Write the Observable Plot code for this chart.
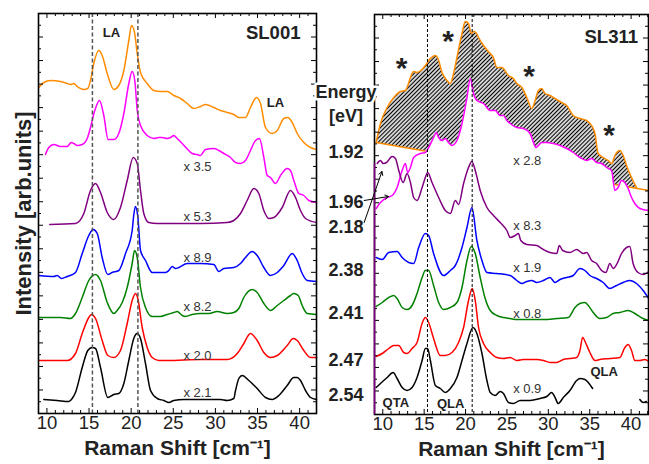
<!DOCTYPE html>
<html><head><meta charset="utf-8">
<script src="https://cdn.jsdelivr.net/npm/d3@7"></script>
<script src="https://cdn.jsdelivr.net/npm/@observablehq/plot@0.6"></script>
<style>
body{margin:0;background:#fff;}
#chart{position:relative;width:649px;height:464px;overflow:hidden;background:#fff;}
</style></head><body><div id="chart"></div>
<script>
// ---------------- DATA ----------------
// Raman shift (cm^-1), intensity (arb. units, offset spectra)
const leftOrange = [[9.04,326],[9.63,331],[10.42,333],[11.61,332],[12.41,330],[12.8,329],[13.19,330],[13.59,327],[14.38,324],[14.85,325],[15.17,333],[15.56,350],[16.16,363],[16.56,358],[17.16,340],[17.94,324],[18.53,328],[19.13,343],[19.72,373],[20.04,388],[20.4,381],[20.72,360],[21.11,341],[21.9,330],[22.69,323],[23.48,322],[24.28,322],[25.06,318],[25.86,315],[26.65,310],[27.44,305],[28.23,307],[28.82,309],[29.81,306],[30.6,303],[31.4,301],[32.18,299],[32.78,296],[33.57,296],[34.16,306],[34.88,316],[35.35,310],[35.95,286],[36.74,280],[37.34,283],[38.12,295],[38.59,296],[39.12,291],[39.71,280],[40.49,271],[41.29,266],[42,264]];
const leftMagenta = [[9.83,259],[10.22,266],[10.82,269],[11.61,267],[12.41,267],[12.88,271],[13.19,270],[13.59,268],[14.19,269],[14.78,275],[15.17,286],[15.68,303],[16.24,313],[16.75,298],[17.27,274],[17.94,274],[18.53,280],[19.13,300],[19.72,330],[20.12,342],[20.43,333],[20.72,303],[21.11,288],[21.9,278],[22.69,275],[23.28,276],[23.68,276],[24.28,275],[24.67,276],[25.06,278],[25.46,275],[26.06,270],[26.84,263],[27.25,260],[27.84,259],[28.23,258],[28.82,264],[29.81,265],[30.4,263],[31.0,260],[31.79,256],[32.39,251],[32.98,250],[33.57,253],[34.16,263],[34.76,273],[35.23,275],[35.75,256],[36.15,238],[36.54,236],[37.13,230],[37.73,238],[38.52,245],[38.91,243],[39.31,233],[39.9,220],[40.49,218],[41.09,213],[42,211]];
const leftPurple = [[10.34,189],[13.39,190],[14.38,200],[15.17,223],[15.77,230],[16.36,221],[17.16,201],[17.94,194],[18.73,206],[19.53,233],[20.24,256],[20.72,250],[21.11,223],[21.5,200],[22.09,191],[23.09,190],[25.06,190],[28.23,190],[31.4,191],[32.18,193],[32.98,200],[33.77,213],[34.56,225],[35.15,220],[35.75,203],[36.34,195],[36.93,196],[37.93,206],[38.91,223],[39.51,216],[40.1,203],[40.7,195],[42,191]];
const leftBlue = [[9.04,138],[10.82,137],[11.22,138],[11.73,135],[12.41,137],[13.39,141],[14.19,160],[14.97,178],[15.49,184],[15.97,180],[16.56,156],[17.23,139],[17.75,141],[18.53,143],[19.33,160],[20.12,183],[20.3,198],[20.51,207],[20.8,196],[21.11,163],[21.7,153],[22.5,141],[23.28,141],[24.08,141],[24.47,143],[24.87,147],[25.26,145],[25.65,146],[26.65,150],[28.23,150],[29.81,149],[30.4,142],[31.0,145],[32.18,146],[32.98,150],[33.57,156],[34.37,162],[34.96,158],[35.75,146],[36.54,138],[37.34,141],[38.12,148],[39.12,160],[39.71,153],[40.3,140],[40.9,133],[42,132]];
const leftGreen = [[9.04,96],[10.42,96],[11.61,96],[12.8,95],[13.39,100],[14.19,116],[14.97,133],[15.77,139],[16.36,133],[17.16,111],[17.94,100],[18.34,103],[18.94,111],[19.53,126],[20.12,150],[20.4,163],[20.72,156],[21.11,126],[21.7,106],[22.5,97],[23.48,97],[24.28,99],[25.06,101],[25.46,102],[26.06,98],[26.45,97],[27.25,99],[28.23,100],[29.22,100],[30.21,102],[31.4,100],[32.18,101],[32.78,105],[33.37,116],[34.37,124],[34.96,121],[35.75,110],[36.54,103],[37.34,108],[38.12,113],[38.91,118],[39.31,120],[39.83,118],[40.3,108],[40.9,100],[42,99]];
const leftRed = [[9.04,53],[12.41,53],[13.39,60],[14.19,80],[14.97,96],[15.26,99],[15.77,95],[16.56,73],[17.23,58],[17.94,56],[18.73,63],[19.53,90],[20.12,113],[20.51,120],[20.79,115],[21.31,86],[21.9,66],[22.5,56],[23.28,53],[24.28,53],[28.23,54],[31.4,54],[32.59,60],[33.37,70],[34.16,80],[34.96,73],[35.75,61],[36.54,56],[37.34,58],[38.52,68],[39.24,75],[39.71,73],[40.49,63],[41.29,56],[42,56]];
const leftBlack = [[9.63,14],[11.22,13],[12.6,12],[13.0,15],[13.39,21],[14.19,46],[14.85,63],[15.37,66],[15.77,65],[16.36,46],[17.23,16],[17.94,19],[18.53,20],[19.13,30],[19.72,53],[20.31,75],[20.72,80],[21.11,75],[21.7,50],[22.3,23],[23.09,15],[23.87,13],[24.47,11],[25.06,13],[26.25,14],[27.44,14],[29.03,14],[30.6,14],[31.4,13],[32.18,15],[32.39,23],[32.78,35],[33.18,38],[33.97,33],[34.96,25],[35.95,16],[36.74,14],[37.53,18],[38.52,28],[39.31,36],[39.71,36],[40.1,33],[40.7,23],[41.29,16],[42,14]];

const rightOrange = [[9.2,272],[9.72,291],[10.53,307],[11.33,317],[12.13,323],[12.73,324],[12.94,327],[13.34,337],[13.73,343],[14.14,342],[14.75,345],[15.14,349],[15.75,356],[16.35,359],[16.67,356],[17.16,342],[17.76,334],[18.16,331],[18.55,341],[18.96,357],[19.57,381],[19.96,393],[20.36,391],[20.69,381],[20.96,383],[21.25,382],[21.57,377],[22.17,369],[22.98,361],[23.37,357],[23.78,347],[24.39,347],[25.18,339],[25.78,336],[26.19,331],[26.8,327],[27.4,317],[28.0,306],[28.4,314],[28.8,324],[29.2,326],[29.6,321],[30.2,319],[30.81,316],[31.2,314],[31.81,311],[32.22,309],[32.61,304],[33.01,299],[33.82,296],[34.63,294],[35.23,289],[35.63,281],[36.02,261],[36.63,257],[37.23,254],[37.64,251],[38.04,259],[38.64,264],[39.04,259],[39.45,249],[40.05,237],[40.65,227]];
const rightOrangeBase = [[9.2,272],[42.13,224]];
const rightMagenta = [[9.2,206],[9.72,212],[10.53,217],[11.13,219],[11.73,227],[12.34,244],[12.73,251],[13.01,242],[13.34,247],[13.73,257],[14.54,261],[15.14,262],[15.54,267],[16.14,277],[16.47,282],[16.75,277],[17.16,274],[17.55,276],[17.95,272],[18.36,269],[18.96,274],[19.57,291],[20.17,317],[20.57,336],[20.96,321],[21.37,314],[22.17,311],[22.98,304],[23.58,304],[24.18,299],[24.58,299],[24.99,294],[25.39,291],[26.19,287],[26.99,286],[27.8,281],[28.2,272],[28.52,267],[28.8,269],[29.2,272],[29.81,272],[30.6,271],[31.41,269],[32.22,266],[33.01,262],[33.82,257],[34.63,254],[35.23,256],[35.83,252],[36.43,251],[37.04,247],[37.64,244],[38.04,224],[38.43,227],[38.84,234],[39.24,232],[39.64,226],[40.05,217],[40.45,211],[41.05,206],[42.13,204]];
const rightPurple = [[9.33,251],[9.72,254],[10.05,251],[10.45,252],[11.13,258],[11.53,256],[11.93,244],[12.46,232],[12.94,241],[13.34,232],[13.73,217],[14.14,214],[14.75,227],[15.14,237],[15.42,242],[15.95,232],[16.75,217],[17.55,204],[18.16,201],[18.76,214],[19.16,210],[19.76,231],[20.36,247],[20.77,253],[21.17,244],[21.77,224],[22.58,207],[23.37,199],[24.18,192],[24.99,184],[25.39,177],[25.99,179],[26.39,181],[26.67,174],[27.4,170],[28.6,169],[29.4,165],[30.2,162],[31.01,161],[31.33,169],[31.73,164],[32.61,162],[33.42,165],[34.22,161],[34.63,162],[35.23,154],[35.83,151],[36.43,144],[36.95,142],[37.43,151],[37.83,146],[38.31,151],[38.84,161],[39.45,167],[39.84,168],[40.24,151],[40.84,142],[41.45,140],[42.13,143]];
const rightBlue = [[9.2,157],[9.93,155],[10.72,162],[11.73,163],[12.34,157],[13.13,152],[13.73,151],[14.34,167],[15.14,181],[15.54,179],[16.14,161],[17.35,139],[18.16,144],[18.76,149],[19.57,167],[20.17,187],[20.77,207],[21.37,174],[21.98,154],[22.58,142],[23.78,141],[25.39,139],[26.19,134],[26.8,131],[27.4,133],[28.0,134],[28.6,132],[29.4,134],[30.2,137],[30.81,132],[31.41,135],[32.22,137],[33.01,139],[33.82,146],[34.42,144],[35.02,139],[35.83,136],[36.63,132],[37.43,126],[38.24,129],[39.04,132],[39.84,134],[40.65,131],[41.45,124],[42.13,116]];
const rightGreen = [[9.2,108],[9.93,112],[10.72,117],[11.33,119],[11.73,116],[12.34,107],[12.94,105],[13.54,109],[14.14,121],[14.75,137],[15.14,144],[15.54,144],[16.14,129],[16.75,112],[17.35,105],[18.16,107],[18.96,112],[19.57,127],[20.17,154],[20.69,168],[21.17,161],[21.77,137],[22.37,116],[22.98,104],[23.78,99],[24.58,97],[25.39,96],[26.19,95],[27.8,95],[29.4,95],[31.01,96],[32.41,97],[33.22,107],[33.82,111],[34.42,112],[34.82,109],[35.42,102],[36.22,96],[37.04,97],[37.83,101],[38.64,102],[39.64,104],[40.45,101],[41.45,96],[42.13,94]];
const rightRed = [[9.2,58],[9.93,61],[10.72,66],[11.33,69],[11.93,69],[12.53,62],[12.94,61],[13.54,66],[14.14,72],[14.75,91],[15.14,97],[15.54,92],[16.14,76],[16.95,59],[17.55,59],[18.36,62],[19.16,72],[19.76,87],[20.36,114],[20.81,126],[21.17,114],[21.57,87],[22.17,71],[22.98,62],[23.78,57],[24.58,56],[25.39,57],[26.19,54],[26.99,55],[28.6,55],[29.4,54],[30.2,52],[31.01,52],[31.81,55],[32.61,56],[33.42,57],[33.82,64],[34.14,77],[34.54,71],[35.02,62],[35.63,54],[36.22,55],[37.43,56],[38.64,57],[39.24,67],[39.64,70],[40.05,64],[40.45,54],[41.05,54],[41.65,55],[42.13,53]];
const rightBlack = [[9.2,27],[9.72,31],[10.53,37],[11.25,42],[11.73,36],[12.34,27],[12.94,24],[13.54,27],[14.14,37],[14.75,54],[15.14,66],[15.42,66],[15.75,54],[16.35,29],[16.95,26],[17.55,22],[18.16,26],[18.96,37],[19.57,54],[20.17,71],[20.89,87],[21.37,81],[21.98,61],[22.58,34],[22.98,22],[23.58,19],[24.18,23],[24.58,21],[25.18,12],[25.78,11],[26.59,14],[27.8,14],[29.0,16],[29.81,18],[30.4,22],[30.81,17],[31.2,11],[31.81,17],[32.61,24],[33.42,34],[33.82,36],[34.42,35],[34.82,32],[35.35,26]];
const rightBlackTail = [[41.05,15],[41.45,12],[41.85,13]];

const dashX = [15.4, 20.8];
const xLabelTicks = [10, 15, 20, 25, 30, 35, 40];

const leftMultipliers = ["x 3.5", "x 5.3", "x 8.9", "x 8.2", "x 2.0", "x 2.1"];
const leftMultY = [247, 197, 156, 107, 58, 21];
const rightMultipliers = ["x 2.8", "x 8.3", "x 1.9", "x 0.8", "x 0.9"];
const rightMultY = [254, 189, 147, 101, 26];

const energies = ["1.92", "1.96", "2.18", "2.38", "2.41", "2.47", "2.54"];
const energyY = [262, 212, 187, 144, 101, 54, 19];
const energyHeader = ["Energy", "[eV]"];
const energyHeaderY = [322, 298];

const leftNotes = [{t: "LA", x: 17.67, y: 381}, {t: "LA", x: 37.13, y: 311}];
const rightNotes = [{t: "QTA", x: 11.57, y: 12}, {t: "QLA", x: 18.2, y: 11}, {t: "QLA", x: 36.74, y: 43}];
const stars = [{x: 12.28, y: 354}, {x: 17.9, y: 381}, {x: 27.68, y: 346}, {x: 37.33, y: 287}];
const arrows = [{x1: 7.75, y1: 214, x2: 10.7, y2: 218}, {x1: 7.75, y1: 192, x2: 9.9, y2: 243}];

// ---------------- STYLE ----------------
const F = "'Liberation Sans', Arial, Helvetica, sans-serif";
const C = {orange: "#ff8c00", magenta: "#ff00ff", purple: "#800080", blue: "#0000ff", green: "#008000", red: "#ff0000", black: "#000"};
const txt = "#222";
const X = d => d[0], Y = d => d[1];
const yTicks = d3.range(35).map(k => k * 400 / 34);
const yMaj = yTicks.filter((d, i) => i % 2 === 0), yMin = yTicks.filter((d, i) => i % 2 === 1);
const xMin = d3.range(9, 43).filter(d => d % 5 !== 0);

function frameMarks(innerW) {
  return [
    Plot.tickX(xMin, {x: d => d, insetTop: 400 - 3, strokeWidth: 1}),
    Plot.tickX(xLabelTicks, {x: d => d, insetTop: 400 - 5, strokeWidth: 1}),
    Plot.tickX(xMin, {x: d => d, insetBottom: 400 - 3, strokeWidth: 1}),
    Plot.tickX(xLabelTicks, {x: d => d, insetBottom: 400 - 5, strokeWidth: 1}),
    Plot.tickY(yMin, {y: d => d, insetRight: innerW - 3, strokeWidth: 1}),
    Plot.tickY(yMaj, {y: d => d, insetRight: innerW - 5, strokeWidth: 1}),
    Plot.tickY(yMin, {y: d => d, insetLeft: innerW - 3, strokeWidth: 1}),
    Plot.tickY(yMaj, {y: d => d, insetLeft: innerW - 5, strokeWidth: 1}),
    Plot.frame({stroke: "#000", strokeWidth: 1.6}),
    Plot.text(xLabelTicks, {x: d => d, frameAnchor: "bottom", dy: 15, text: d => String(d), fontSize: 18.5, fill: txt}),
    Plot.text(["Raman Shift [cm\u207B\u00B9]"], {frameAnchor: "bottom", dy: 41, fontSize: 21, fontWeight: "bold", fill: txt})
  ];
}
const curve = "monotone-x";
const line = (data, color) => Plot.line(data, {x: X, y: Y, stroke: color, strokeWidth: 1.5, curve});

// ---------------- LEFT PANEL ----------------
const leftW = 330;
const leftSvg = Plot.plot({
  width: leftW, height: 464,
  marginLeft: 38, marginRight: 14, marginTop: 13, marginBottom: 51,
  x: {domain: [9, 42], axis: null},
  y: {domain: [0, 400], axis: null},
  style: {position: "absolute", left: "0px", top: "0px", background: "transparent", fontFamily: F, overflow: "visible"},
  marks: [
    line(leftOrange, C.orange), line(leftMagenta, C.magenta), line(leftPurple, C.purple),
    line(leftBlue, C.blue), line(leftGreen, C.green), line(leftRed, C.red), line(leftBlack, C.black),
    Plot.ruleX(dashX, {stroke: "#555", strokeWidth: 1.5, strokeDasharray: "4,2.5"}),
    ...frameMarks(278),
    Plot.text(["Intensity [arb.units]"], {frameAnchor: "left", textAnchor: "middle", dx: -15, rotate: -90, fontSize: 22, fontWeight: "bold", fill: txt}),
    Plot.text(leftMultipliers, {x: 26.2, y: (d, i) => leftMultY[i], text: d => d, textAnchor: "start", fontSize: 13, fill: "#333"}),
    Plot.text(leftNotes, {x: "x", y: "y", text: "t", fontSize: 13, fontWeight: "bold", fill: txt}),
    Plot.text(["SL001"], {x: 40.1, y: 380, textAnchor: "end", fontSize: 18.5, fontWeight: "bold", fill: txt})
  ]
});

// ---------------- RIGHT PANEL ----------------
const b0 = rightOrangeBase[0], b1 = rightOrangeBase[1];
const baseAt = x => b0[1] + (x - b0[0]) * (b1[1] - b0[1]) / (b1[0] - b0[0]);
const rightW = 349;
const rightSvg = Plot.plot({
  width: rightW, height: 464,
  marginLeft: 74, marginRight: 1, marginTop: 14, marginBottom: 50,
  x: {domain: [9, 42.1], axis: null},
  y: {domain: [0, 400], axis: null},
  style: {position: "absolute", left: "300px", top: "0px", background: "transparent", fontFamily: F, overflow: "visible"},
  marks: [
    Plot.line(rightOrange.concat([b1]), {x: X, y: Y, fill: "url(#hatch)", stroke: "none", curve}),
    line(rightOrange, C.orange),
    Plot.line(rightOrangeBase, {x: X, y: Y, stroke: C.orange, strokeWidth: 1.5}),
    Plot.areaY(rightMagenta, {x: X, y1: d => Math.min(baseAt(d[0]) - 4, d[1]), y2: Y, fill: "white", curve}),
    line(rightMagenta, C.magenta), line(rightPurple, C.purple), line(rightBlue, C.blue),
    line(rightGreen, C.green), line(rightRed, C.red), line(rightBlack, C.black), line(rightBlackTail, C.black),
    Plot.ruleX(dashX, {stroke: "#000", strokeWidth: 1, strokeDasharray: "3,2"}),
    ...frameMarks(274),
    Plot.ruleX([9], {y1: 0, y2: rightPurple[0][1], stroke: C.purple, strokeWidth: 1.6}),
    Plot.text(rightMultipliers, {x: 25.75, y: (d, i) => rightMultY[i], text: d => d, textAnchor: "start", fontSize: 13, fill: "#333"}),
    Plot.text(rightNotes, {x: "x", y: "y", text: "t", fontSize: 13, fontWeight: "bold", fill: txt}),
    Plot.text(stars, {x: "x", y: "y", text: () => "*", fontSize: 30, fontWeight: "bold", dy: 8, fill: txt}),
    Plot.text(["SL311"], {x: 40.83, y: 377, textAnchor: "end", fontSize: 18.5, fontWeight: "bold", fill: txt}),
    Plot.text(energyHeader, {y: (d, i) => energyHeaderY[i], text: d => d, frameAnchor: "left", textAnchor: "middle", dx: -28.5, fontSize: 18, fontWeight: "bold", fill: txt, stroke: "white", strokeWidth: 5}),
    Plot.text(energies, {y: (d, i) => energyY[i], text: d => d, frameAnchor: "left", textAnchor: "middle", dx: -28.5, fontSize: 18, fontWeight: "bold", fill: txt}),
    Plot.arrow(arrows, {x1: "x1", y1: "y1", x2: "x2", y2: "y2", stroke: "#000", strokeWidth: 1, headLength: 6})
  ]
});
const defs = d3.select(rightSvg).insert("defs", ":first-child");
const P = 2.9;
const pat = defs.append("pattern").attr("id", "hatch").attr("patternUnits", "userSpaceOnUse")
  .attr("width", P).attr("height", P).attr("patternTransform", "rotate(45)");
pat.append("rect").attr("width", P).attr("height", P).attr("fill", "white");
pat.append("line").attr("x1", P / 2).attr("y1", 0).attr("x2", P / 2).attr("y2", P).attr("stroke", "#000").attr("stroke-width", 1.3);

const chart = document.getElementById("chart");
chart.appendChild(leftSvg);
chart.appendChild(rightSvg);
</script></body></html>
